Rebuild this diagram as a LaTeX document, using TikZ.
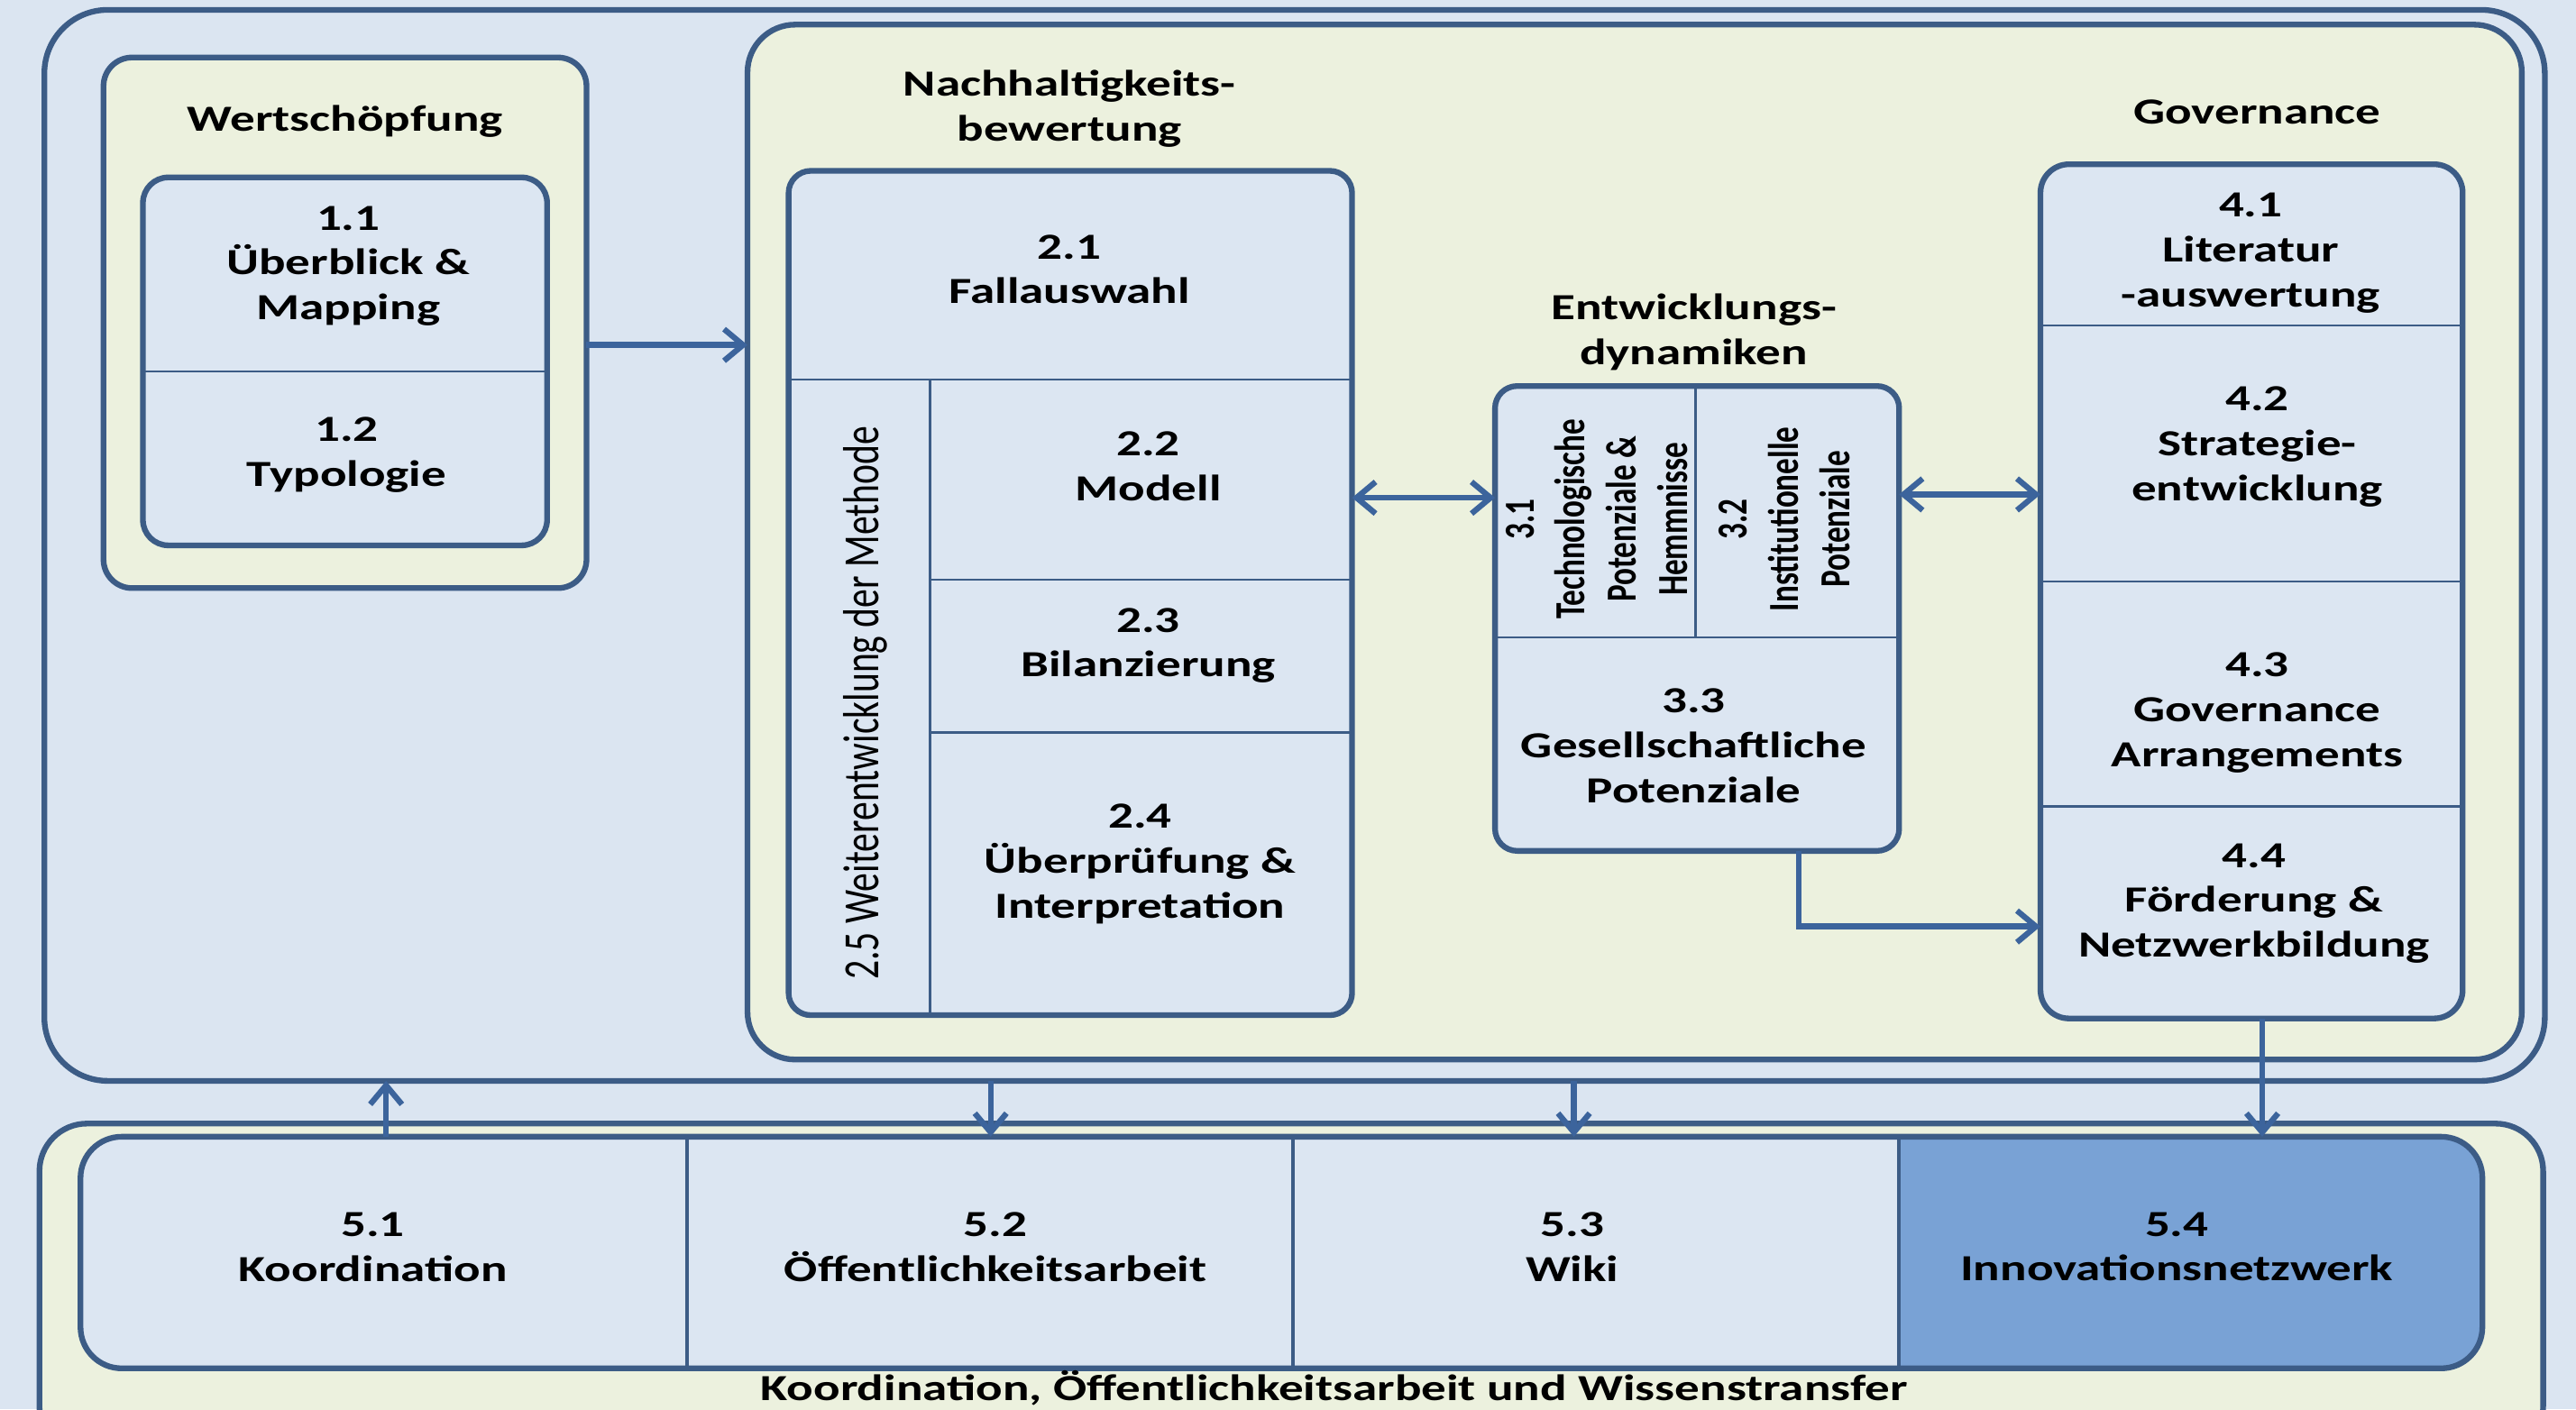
\documentclass[tikz,border=0pt]{standalone}
\usepackage{fontspec}
\setmainfont{Carlito}
\newfontfamily\wf{Carlito}[FakeStretch=1.35]
\newfontfamily\vf{Carlito}[FakeStretch=0.741]
\usetikzlibrary{arrows.meta,fit,calc}
\definecolor{bgblue}{RGB}{219,229,241}
\definecolor{cream}{RGB}{236,241,222}
\definecolor{boxblue}{RGB}{220,230,242}
\definecolor{darkfill}{RGB}{121,162,213}
\definecolor{edgec}{RGB}{60,92,134}
\definecolor{arrowc}{RGB}{60,100,156}
\begin{document}
\begin{tikzpicture}[x=0.01822cm, y=-0.01822cm,
  frame/.style={draw=edgec, line width=1.8pt, inner sep=0pt, outer sep=0pt},
  cell/.style={inner sep=0pt, outer sep=0pt},
  divl/.style={draw=edgec, line width=0.7pt},
  txt/.style={font=\wf\bfseries\fontsize{11.6}{14.2}\selectfont, align=center, inner sep=0pt, text=black},
  vtxt/.style={font=\vf\bfseries\fontsize{13.5}{16.2}\selectfont, align=center, inner sep=0pt, rotate=90, text=black},
  vtxtr/.style={font=\vf\fontsize{16}{19}\selectfont, align=center, inner sep=0pt, rotate=90, text=black},
  arr/.style={draw=arrowc, line width=1.8pt, -{Straight Barb[length=6pt,width=10pt]}},
  arrb/.style={draw=arrowc, line width=1.8pt, {Straight Barb[length=6pt,width=10pt]}-{Straight Barb[length=6pt,width=10pt]}}
]
\useasboundingbox (0,0) rectangle (1568,858);
\clip (0,0) rectangle (1568,858);
\fill[bgblue] (0,0) rectangle (1568,858);

% outer frame
\node[frame, rounded corners=20pt, fit={(27,6) (1549,658)}] (A) {};

% Wertschoepfung
\node[frame, fill=cream, rounded corners=9pt, fit={(63,35) (357,358)}] (W) {};
\node[frame, fill=boxblue, rounded corners=8pt, fit={(87,108) (333,332)}] (B1) {};
\draw[divl] (87,226) -- (333,226);

% Nachhaltigkeit / Governance container
\node[frame, fill=cream, rounded corners=15pt, fit={(455,15) (1535,645)}] (NB) {};

% box 2
\node[frame, fill=boxblue, rounded corners=7pt, fit={(480,104) (823,618)}] (B2) {};
\draw[divl] (480,231) -- (823,231);
\draw[divl] (566,231) -- (566,618);
\draw[divl] (566,353) -- (823,353);
\draw[divl] (566,446) -- (823,446);

% box 3
\node[frame, fill=boxblue, rounded corners=7pt, fit={(910,235) (1156,518)}] (B3) {};
\draw[divl] (910,388) -- (1156,388);
\draw[divl] (1032,235) -- (1032,388);

% box 4
\node[frame, fill=boxblue, rounded corners=9pt, fit={(1242,100) (1499,620)}] (B4) {};
\draw[divl] (1242,198) -- (1499,198);
\draw[divl] (1242,354) -- (1499,354);
\draw[divl] (1242,491) -- (1499,491);

% bottom container
\node[frame, fill=cream, rounded corners=15pt, fit={(24,684) (1548,885)}] (C) {};
\node[cell, fill=boxblue, rounded corners=13pt, fit={(49,692) (1511,833)}] (D) {};
\begin{scope}
  \clip[rounded corners=13pt] (49,692) rectangle (1511,833);
  \fill[darkfill] (1156,692) rectangle (1511,833);
\end{scope}
\draw[edgec, line width=1.8pt, rounded corners=13pt] (D.north west) rectangle (D.south east);
\draw[edgec, line width=1.1pt] (418,692) -- (418,833);
\draw[edgec, line width=1.1pt] (787,692) -- (787,833);
\draw[edgec, line width=1.1pt] (1156,692) -- (1156,833);
\node[cell, fit={(49,692) (418,833)}] (s51) {};
\node[cell, fit={(418,692) (787,833)}] (s52) {};
\node[cell, fit={(787,692) (1156,833)}] (s53) {};
\node[cell, fit={(1156,692) (1511,833)}] (s54) {};

% texts
\node[txt] (tW) at (210,74) {Wertschöpfung};
\node[txt] (t11) at (212,162) {1.1\\Überblick \&\\Mapping};
\node[txt] (t12) at (211,277) {1.2\\Typologie};
\node[txt] (tNB) at (651,66) {Nachhaltigkeits-\\bewertung};
\node[txt] (t21) at (651,164) {2.1\\Fallauswahl};
\node[txt] (t22) at (699,284) {2.2\\Modell};
\node[txt] (t23) at (699,393) {2.3\\Bilanzierung};
\node[txt] (t24) at (694,526) {2.4\\Überprüfung \&\\Interpretation};
\node[vtxtr] (t25) at (527,428) {2.5 Weiterentwicklung der Methode};
\node[txt] (tE) at (1031,202) {Entwicklungs-\\dynamiken};
\node[vtxt] (t31) at (972,316) {3.1\\Technologische\\Potenziale \&\\Hemmnisse};
\node[vtxt] (t32) at (1086,316) {3.2\\Institutionelle\\Potenziale};
\node[txt] (t33) at (1031,454) {3.3\\Gesellschaftliche\\Potenziale};
\node[txt] (tG) at (1374,68) {Governance};
\node[txt] (t41) at (1370,154) {4.1\\Literatur\\-auswertung};
\node[txt] (t42) at (1374,272) {4.2\\Strategie-\\entwicklung};
\node[txt] (t43) at (1374,434) {4.3\\Governance\\Arrangements};
\node[txt] (t44) at (1372,550) {4.4\\Förderung \&\\Netzwerkbildung};
\node[txt] (t51) at (227,759) {5.1\\Koordination};
\node[txt] (t52) at (606,759) {5.2\\Öffentlichkeitsarbeit};
\node[txt] (t53) at (957,759) {5.3\\Wiki};
\node[txt] (t54) at (1325,759) {5.4\\Innovationsnetzwerk};
\node[txt] (tK) at (812,845) {Koordination, Öffentlichkeitsarbeit und Wissenstransfer};

% helper coordinates
\coordinate (y210) at (0,210);
\coordinate (y303) at (0,303);
\coordinate (y301) at (0,301);
\coordinate (y564) at (0,564);
\coordinate (x1095) at (1095,0);
\coordinate (x235) at (235,0);
\coordinate (x603) at (603,0);
\coordinate (x958) at (958,0);
\coordinate (x1377) at (1377,0);

% arrows
\draw[arr] (W.east |- y210) -- (NB.west |- y210);
\draw[arrb] (B2.east |- y303) -- (B3.west |- y303);
\draw[arrb] (B3.east |- y301) -- (B4.west |- y301);
\draw[arr] (B3.south -| x1095) |- (B4.west |- y564);
\draw[arr] (s51.north -| x235) -- (A.south -| x235);
\draw[arr] (A.south -| x603) -- (s52.north -| x603);
\draw[arr] (A.south -| x958) -- (s53.north -| x958);
\draw[arr] (B4.south -| x1377) -- (s54.north -| x1377);
\end{tikzpicture}
\end{document}
